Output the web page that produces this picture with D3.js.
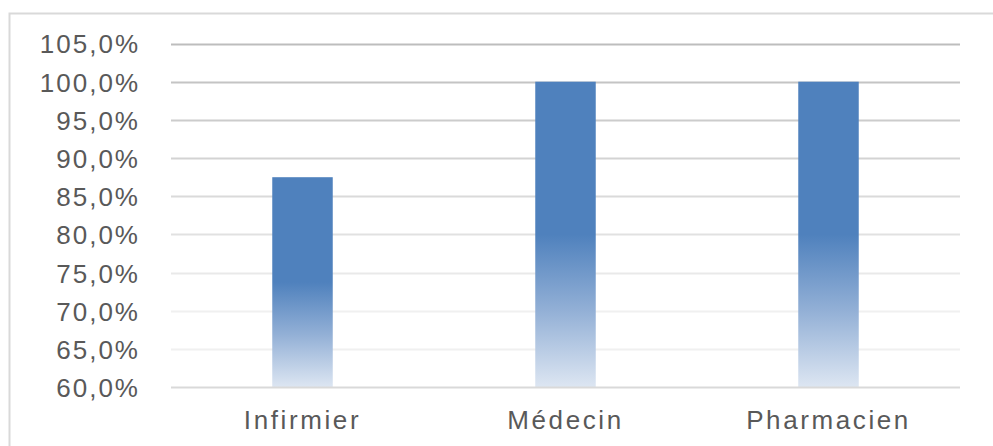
<!DOCTYPE html>
<html>
<head>
<meta charset="utf-8">
<script src="https://cdn.jsdelivr.net/npm/d3@7"></script>
<style>
  html, body { margin: 0; padding: 0; background: #ffffff; }
  svg { display: block; }
  text { font-family: "Liberation Sans", Arial, sans-serif; fill: #595959; }
</style>
</head>
<body>
<svg id="chart" width="993" height="446"></svg>
<script>
// Share of respondents per profession
const categories = ["Infirmier", "Médecin", "Pharmacien"];
const values = [0.875, 1.0, 1.0];
const yTicks = [0.60, 0.65, 0.70, 0.75, 0.80, 0.85, 0.90, 0.95, 1.00, 1.05];

const svg = d3.select("#chart");
const W = 993, H = 446;

// Chart frame
svg.append("rect")
  .attr("x", 9.5).attr("y", 13.5)
  .attr("width", W + 20).attr("height", H + 20)
  .attr("fill", "#ffffff")
  .attr("stroke", "#d9d9d9")
  .attr("stroke-width", 2);

const plot = { left: 171, right: 960, top: 43.5, bottom: 387.3 };

const x = d3.scaleBand()
  .domain(categories)
  .range([plot.left, plot.right])
  .paddingInner(0.77)
  .paddingOuter(0.385);

const y = d3.scaleLinear()
  .domain([0.60, 1.05])
  .range([plot.bottom, plot.top]);

// Bar fill: solid blue in the upper half, fading out toward the base
const defs = svg.append("defs");
const grad = defs.append("linearGradient")
  .attr("id", "barFill")
  .attr("x1", 0).attr("y1", 0).attr("x2", 0).attr("y2", 1);
grad.append("stop").attr("offset", "0%").attr("stop-color", "#4f81bd");
grad.append("stop").attr("offset", "50%").attr("stop-color", "#4f81bd");
grad.append("stop").attr("offset", "75%").attr("stop-color", "#93b0d6");
grad.append("stop").attr("offset", "100%").attr("stop-color", "#dde6f2");

// Horizontal gridlines, darker at the top and lighter toward the base
const gridColor = d3.interpolateRgb("#bdbdbd", "#f0f0f0");
const gridTicks = yTicks.filter(t => t > 0.60 + 1e-9);
svg.append("g")
  .selectAll("line")
  .data(gridTicks)
  .join("line")
  .attr("x1", plot.left).attr("x2", plot.right)
  .attr("y1", d => Math.round(y(d)) + 0.5)
  .attr("y2", d => Math.round(y(d)) + 0.5)
  .attr("stroke", d => gridColor(Math.min(1, (1.05 - d) / 0.35)))
  .attr("stroke-width", 2);

// Bars
svg.append("g")
  .selectAll("rect")
  .data(categories.map((c, i) => ({ c, v: values[i] })))
  .join("rect")
  .attr("x", d => x(d.c))
  .attr("width", x.bandwidth())
  .attr("y", d => y(d.v))
  .attr("height", d => y(0.60) - y(d.v))
  .attr("fill", "url(#barFill)");

// Category axis baseline
svg.append("line")
  .attr("x1", plot.left).attr("x2", plot.right)
  .attr("y1", Math.round(y(0.60)) + 0.5)
  .attr("y2", Math.round(y(0.60)) + 0.5)
  .attr("stroke", "#d9d9d9")
  .attr("stroke-width", 2);

// Y axis labels
const fmt = d => d3.format(".1%")(d).replace(".", ",");
const yAxis = d3.axisLeft(y)
  .tickValues(yTicks)
  .tickFormat(fmt)
  .tickSize(0)
  .tickPadding(0);
const gy = svg.append("g")
  .attr("transform", "translate(140,0)")
  .call(yAxis);
gy.select(".domain").remove();
gy.selectAll("text")
  .attr("font-size", 26)
  .attr("letter-spacing", "2px")
  .attr("dy", "0.36em")
  .attr("font-family", "'Liberation Sans', Arial, sans-serif")
  .attr("fill", "#595959");

// X axis labels
const xAxis = d3.axisBottom(x).tickSize(0).tickPadding(0);
const gx = svg.append("g")
  .attr("transform", "translate(0,429)")
  .call(xAxis);
gx.select(".domain").remove();
gx.selectAll("text")
  .attr("font-size", 26)
  .attr("letter-spacing", "2.6px")
  .attr("dy", 0)
  .attr("y", 0)
  .attr("font-family", "'Liberation Sans', Arial, sans-serif")
  .attr("fill", "#595959");
</script>
</body>
</html>
